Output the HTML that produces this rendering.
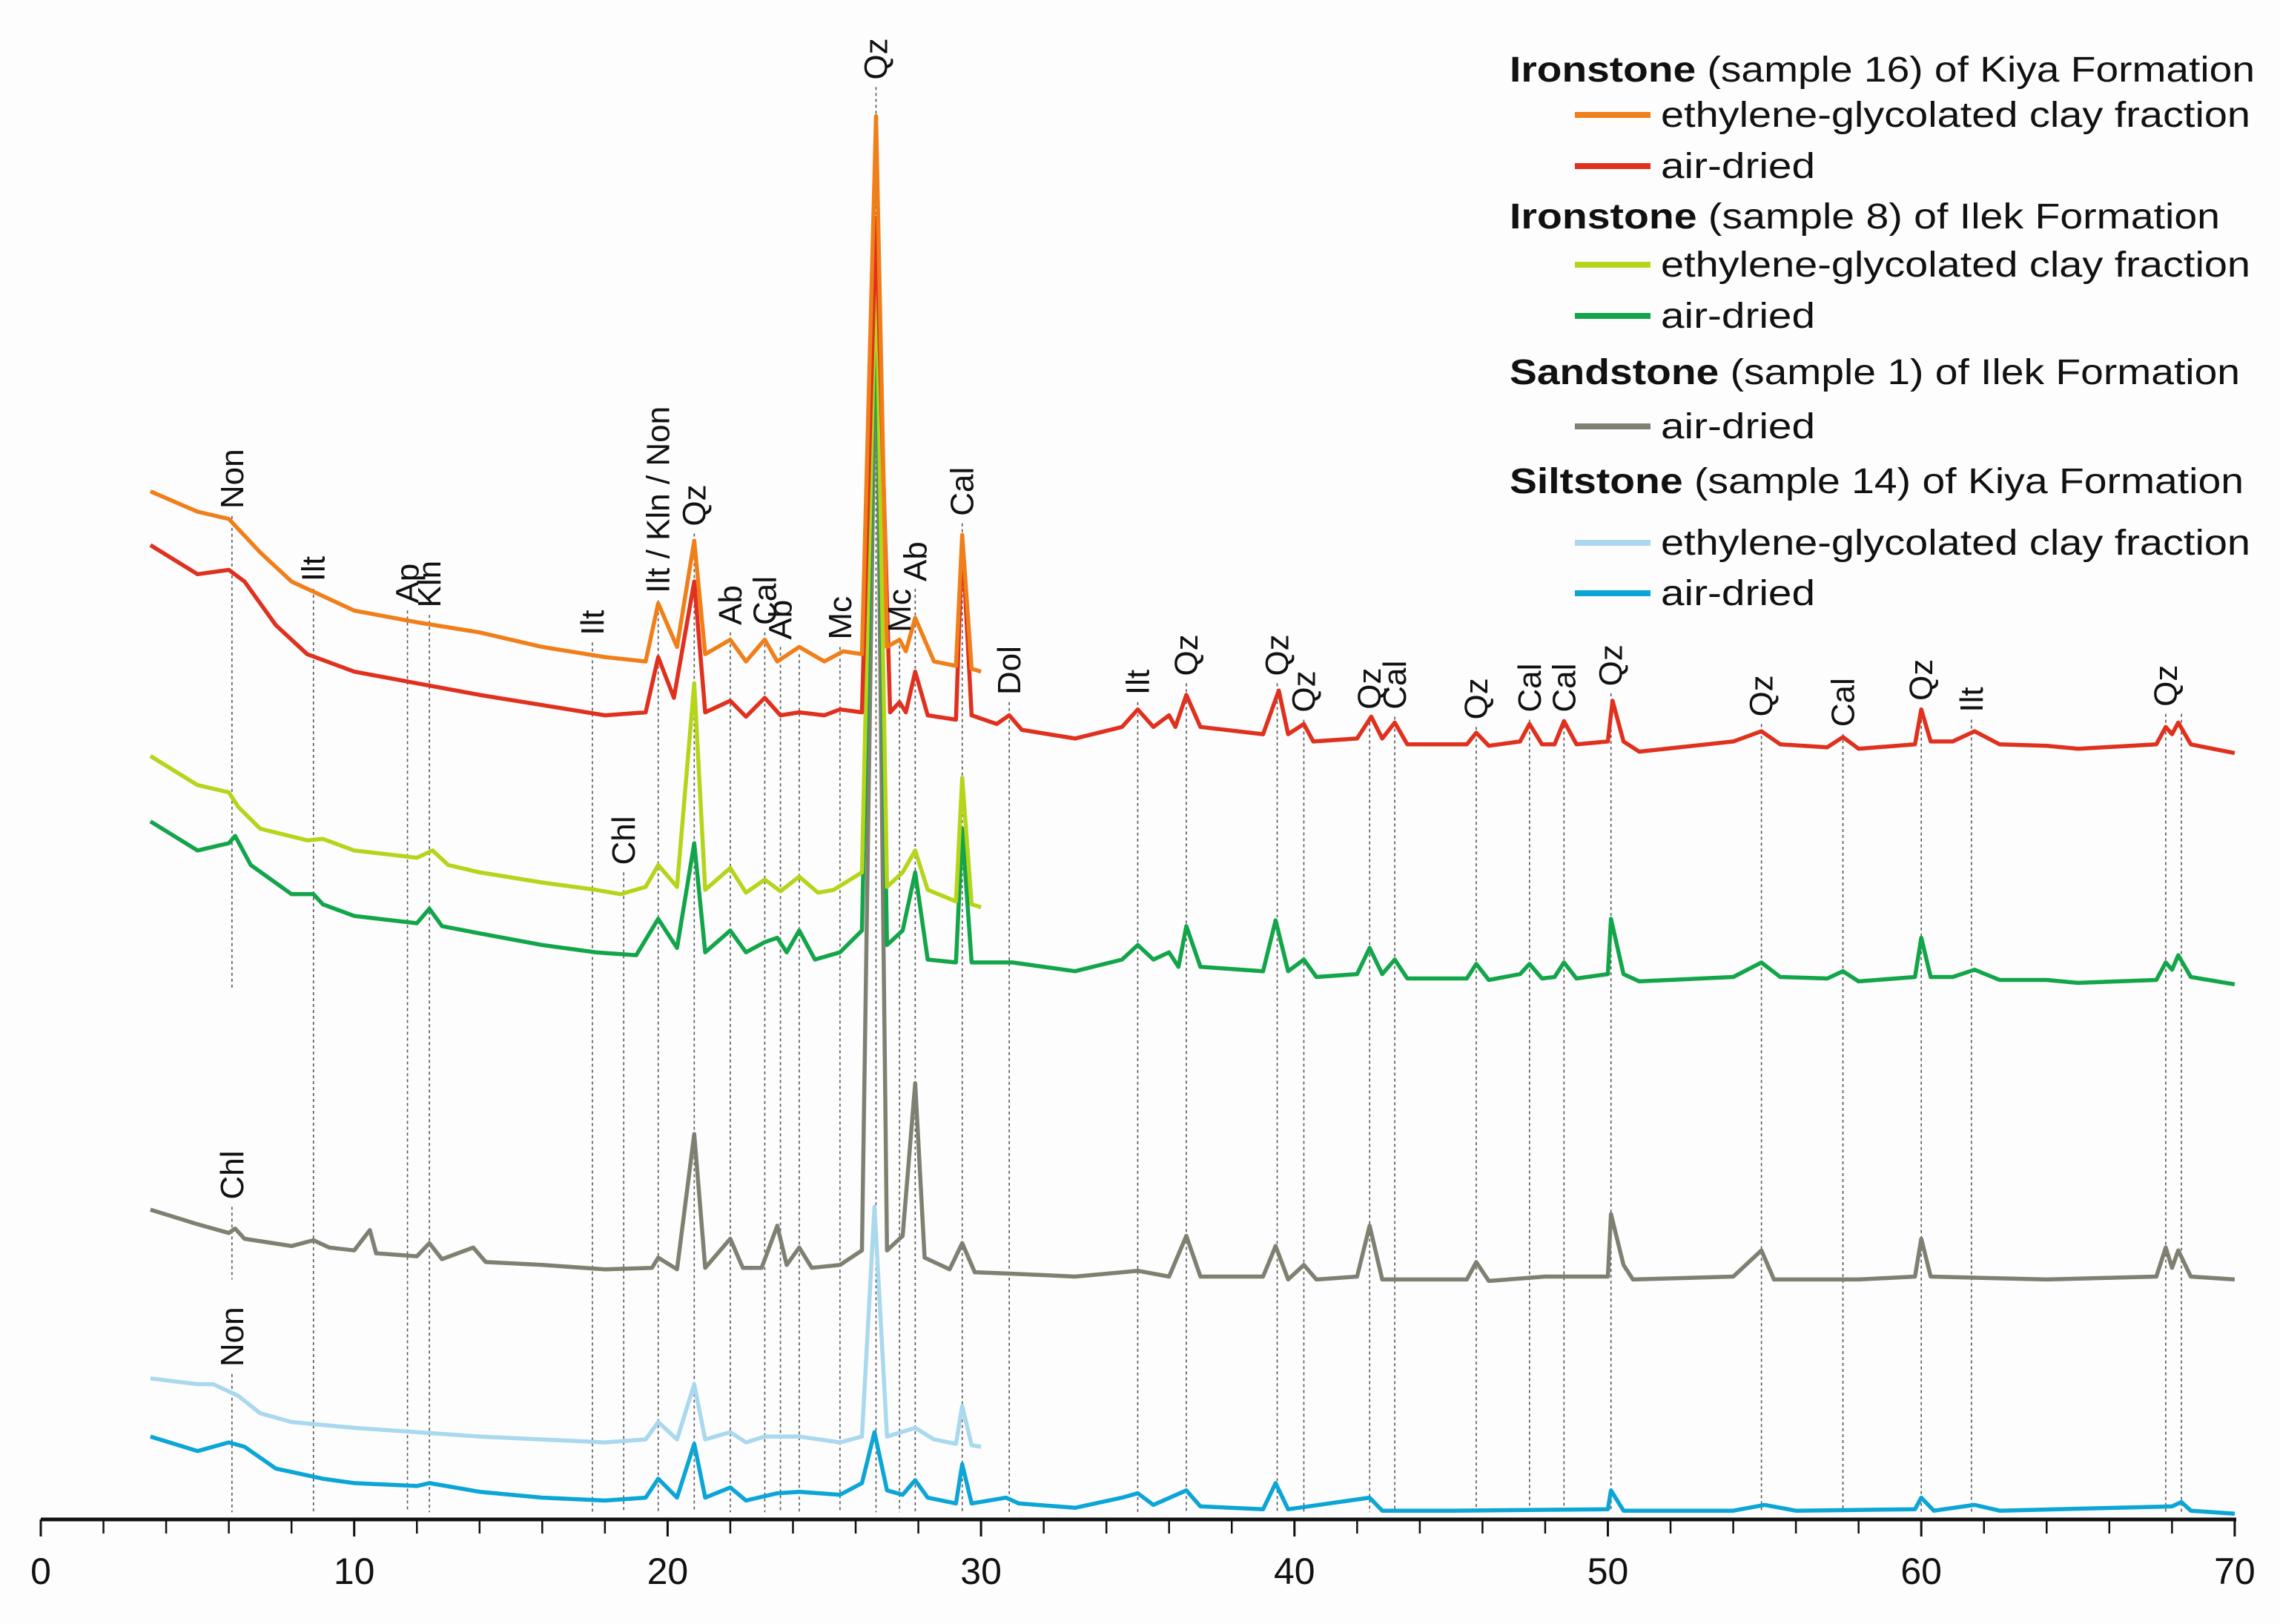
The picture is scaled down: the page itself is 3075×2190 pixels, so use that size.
<!DOCTYPE html>
<html><head><meta charset="utf-8"><style>
html,body{margin:0;padding:0;background:#fdfdfd;}
svg{display:block;font-family:"Liberation Sans",sans-serif;}
</style></head><body>
<svg id="chart" width="3075" height="2190" viewBox="0 0 3075 2190" xmlns="http://www.w3.org/2000/svg">
<rect width="3075" height="2190" fill="#fdfdfd"/>
<g id="guides"></g>
<g id="traces"></g>
<g id="labels"></g>
<g id="axis"></g>
<g id="legend"></g>
</svg>
<script>
// Values: level in reference units (smaller = higher on chart)
const orangePts=[[3.5,338],[5,352],[6,357],[7,380],[8,400],[9,410],[10,420],[12,428],[14,435],[16,445],[18,452],[19.3,455],[19.7,415],[20.3,445],[20.85,372],[21.2,450],[22,440],[22.5,455],[23.1,440],[23.5,455],[24.2,445],[25,455],[25.6,448],[26.2,450],[26.65,80],[27,445],[27.4,440],[27.6,448],[27.9,425],[28.5,455],[29.2,458],[29.4,368],[29.7,460],[30,462]];
const redPts=[[3.5,375],[5,395],[6,392],[6.5,400],[7.5,430],[8.5,450],[10,462],[12,470],[14,478],[16,485],[18,492],[19.3,490],[19.7,452],[20.2,480],[20.85,400],[21.2,490],[22,482],[22.5,493],[23.1,480],[23.6,492],[24.2,490],[25,492],[25.5,488],[26.2,490],[26.65,150],[27.1,490],[27.4,483],[27.6,490],[27.9,462],[28.3,492],[29.2,495],[29.4,370],[29.7,492],[30.5,498],[30.9,492],[31.3,502],[33,508],[34.5,500],[35,488],[35.5,500],[36,492],[36.2,500],[36.55,478],[37,500],[39,505],[39.5,475],[39.8,505],[40.3,498],[40.6,510],[42,508],[42.45,493],[42.8,508],[43.2,497],[43.6,512],[45.5,512],[45.8,504],[46.2,513],[47.2,510],[47.5,498],[47.9,512],[48.3,512],[48.6,496],[49,512],[50,510],[50.15,482],[50.5,510],[51,517],[54,510],[54.9,503],[55.5,512],[57,514],[57.5,507],[58,515],[59.8,512],[60,488],[60.3,510],[61,510],[61.7,503],[62.5,512],[64,513],[65,515],[67.5,512],[67.8,500],[68,505],[68.2,497],[68.6,512],[70,518]];
const limePts=[[3.5,520],[5,540],[6,545],[6.3,555],[7,570],[8.5,578],[9,577],[10,585],[12,590],[12.5,585],[13,595],[14,600],[16,607],[17.7,612],[18.5,615],[19.3,610],[19.7,595],[20.3,610],[20.85,470],[21.2,612],[22,597],[22.5,614],[23.1,605],[23.6,613],[24.2,603],[24.8,614],[25.3,612],[26.2,600],[26.65,170],[27,610],[27.5,600],[27.9,585],[28.3,612],[29.2,620],[29.4,535],[29.7,622],[30,624]];
const greenPts=[[3.5,565],[5,585],[6,580],[6.2,575],[6.7,595],[8,615],[8.7,615],[9,622],[10,630],[12,635],[12.4,625],[12.8,637],[14,642],[16,650],[17.7,655],[19,657],[19.7,632],[20.3,652],[20.85,580],[21.2,655],[22,640],[22.5,655],[23.1,648],[23.5,645],[23.8,655],[24.2,640],[24.7,660],[25.5,655],[26.2,640],[26.65,200],[27,650],[27.5,640],[27.9,600],[28.3,660],[29.2,662],[29.4,570],[29.7,662],[31,662],[33,668],[34.5,660],[35,650],[35.5,660],[36,655],[36.3,665],[36.55,637],[37,665],[39,668],[39.4,633],[39.8,668],[40.3,660],[40.7,672],[42,670],[42.4,652],[42.8,670],[43.2,660],[43.6,673],[45.5,673],[45.8,663],[46.2,674],[47.2,670],[47.5,663],[47.9,673],[48.3,672],[48.6,662],[49,673],[50,670],[50.1,632],[50.5,670],[51,675],[54,672],[54.9,662],[55.5,672],[57,673],[57.5,668],[58,675],[59.8,672],[60,645],[60.3,672],[61,672],[61.7,667],[62.5,674],[64,674],[65,676],[67.5,674],[67.8,662],[68,667],[68.2,657],[68.6,672],[70,677]];
const greyPts=[[3.5,832],[5,842],[6,848],[6.2,845],[6.5,852],[8,857],[8.7,853],[9.2,858],[10,860],[10.5,846],[10.7,862],[12,864],[12.4,855],[12.8,866],[13.8,858],[14.2,868],[16,870],[18,873],[19.5,872],[19.7,865],[20.3,873],[20.85,780],[21.2,872],[22,852],[22.4,872],[23,872],[23.5,843],[23.8,870],[24.2,858],[24.6,872],[25.5,870],[26.2,860],[26.65,200],[27,860],[27.5,850],[27.9,745],[28.2,865],[29,873],[29.4,855],[29.8,875],[31,876],[33,878],[35,874],[36,878],[36.55,850],[37,878],[39,878],[39.4,857],[39.8,880],[40.3,870],[40.7,880],[42,878],[42.4,843],[42.8,880],[45.5,880],[45.8,868],[46.2,881],[48,878],[50,878],[50.1,835],[50.5,870],[50.8,880],[54,878],[54.9,860],[55.3,880],[58,880],[59.8,878],[60,852],[60.3,878],[64,880],[67.5,878],[67.8,858],[68,872],[68.2,860],[68.6,878],[70,880]];
const skyPts=[[3.5,948],[5,952],[5.5,952],[6.3,960],[7,972],[8,978],[10,982],[12,985],[14,988],[16,990],[18,992],[19.3,990],[19.7,978],[20.3,990],[20.85,952],[21.2,990],[22,985],[22.5,992],[23.1,988],[24.2,988],[25.5,992],[26.2,988],[26.6,830],[27,988],[27.9,982],[28.5,990],[29.2,993],[29.4,967],[29.7,994],[30,995]];
const bluePts=[[3.5,988],[5,998],[6,992],[6.5,995],[7.5,1010],[9,1017],[10,1020],[12,1022],[12.4,1020],[14,1026],[16,1030],[18,1032],[19.3,1030],[19.7,1017],[20.3,1030],[20.85,993],[21.2,1030],[22,1023],[22.5,1032],[23.5,1027],[24.2,1026],[25.5,1028],[26.2,1020],[26.6,985],[27,1025],[27.5,1028],[27.9,1018],[28.3,1030],[29.2,1034],[29.4,1007],[29.7,1034],[30.8,1030],[31.2,1034],[33,1037],[34.5,1030],[35,1027],[35.5,1035],[36.55,1025],[37,1036],[39,1038],[39.4,1020],[39.8,1038],[42.4,1030],[42.8,1039],[45,1039],[50,1038],[50.1,1025],[50.5,1039],[54,1039],[55,1035],[56,1039],[59.8,1038],[60,1030],[60.4,1039],[61.7,1035],[62.5,1039],[68,1036],[68.3,1033],[68.6,1039],[70,1041]];
const peakLabels=[[6.1,350,"Non"],[8.7,400,"Ilt"],[11.7,415,"Ap"],[12.4,418,"Kln"],[17.6,437,"Ilt"],[19.7,408,"Ilt / Kln / Non"],[20.85,362,"Qz"],[22.0,430,"Ab"],[23.1,430,"Cal"],[23.6,440,"Ab"],[25.5,440,"Mc"],[26.65,55,"Qz"],[27.4,435,"Mc"],[27.9,400,"Ab"],[29.4,355,"Cal"],[30.9,478,"Dol"],[35.0,478,"Ilt"],[36.55,465,"Qz"],[39.45,465,"Qz"],[40.3,490,"Qz"],[42.4,488,"Qz"],[43.2,488,"Cal"],[45.8,495,"Qz"],[47.5,490,"Cal"],[48.6,490,"Cal"],[50.1,472,"Qz"],[54.9,493,"Qz"],[57.5,500,"Cal"],[60.0,482,"Qz"],[61.6,490,"Ilt"],[67.8,486,"Qz"],[18.6,595,"Chl"],[6.1,825,"Chl"],[6.1,940,"Non"]];
const guideLines=[[6.1,355,680],[6.1,830,880],[6.1,945,1040],[8.7,405,1040],[11.7,420,1040],[12.4,423,1040],[17.6,442,1040],[18.6,600,1040],[19.7,413,1040],[20.85,367,1040],[22,435,1040],[23.1,435,1040],[23.6,445,1040],[24.2,450,1040],[25.5,445,1040],[26.65,60,1040],[27.4,440,1040],[27.9,405,1040],[29.4,360,1040],[30.9,483,1040],[35,483,1040],[36.55,470,1040],[39.45,470,1040],[40.3,495,1040],[42.4,493,1040],[43.2,493,1040],[45.8,500,1040],[47.5,495,1040],[48.6,495,1040],[50.1,477,1040],[54.9,498,1040],[57.5,505,1040],[60,487,1040],[61.6,495,1040],[67.8,491,1040],[68.3,491,1040]];
const xTicks=[0,10,20,30,40,50,60,70];

const NS="http://www.w3.org/2000/svg";
function X(v){return 55+v*42.27;}
function Y(l){return 2049-(1045-l)*1.961;}
function mk(tag,attrs,parent){const e=document.createElementNS(NS,tag);for(const k in attrs)e.setAttribute(k,attrs[k]);parent.appendChild(e);return e;}

const gG=document.getElementById('guides');
guideLines.forEach(g=>{
  const l=mk('line',{x1:X(g[0]),x2:X(g[0]),y1:Y(g[1]),y2:Y(g[2]),stroke:'#555','stroke-width':1.6,'stroke-dasharray':'4,4'},gG);
  
  
});

const series=[
 ['orange-eg-ironstone-16',orangePts,'#f07f1a'],
 ['red-air-ironstone-16',redPts,'#e0301e'],
 ['grey-air-sandstone-1',greyPts,'#7f7f72'],
 ['lime-eg-ironstone-8',limePts,'#b5d51a'],
 ['green-air-ironstone-8',greenPts,'#12a54a'],
 ['sky-eg-siltstone-14',skyPts,'#a9d8ef'],
 ['blue-air-siltstone-14',bluePts,'#0ba5d6']
];
const order=[2,6,5,4,3,1,0];
const gT=document.getElementById('traces');
order.forEach(i=>{
  const s=series[i];
  const d=s[1].map((p,j)=>(j?'L':'M')+X(p[0]).toFixed(1)+' '+Y(p[1]).toFixed(1)).join(' ');
  const p=mk('path',{d:d,fill:'none',stroke:s[2],'stroke-width':5.5,'stroke-linejoin':'round'},gT);
  
  
});

const gL=document.getElementById('labels');
peakLabels.forEach(a=>{
  const x=X(a[0])+15,y=Y(a[1]);
  const t=mk('text',{x:x,y:y,transform:'rotate(-90 '+x+' '+y+')','font-size':44,fill:'#111'},gL);
  t.textContent=a[2];
  
  
});

const gA=document.getElementById('axis');
const al=mk('line',{x1:55,x2:3016,y1:2049,y2:2049,stroke:'#111','stroke-width':5},gA);


for(let v=0;v<=70;v+=2){
  const tk=mk('line',{x1:X(v),x2:X(v),y1:2049,y2:2068,stroke:'#111','stroke-width':2.5},gA);
  
  
}
xTicks.forEach(v=>{
  const tk=mk('line',{x1:X(v),x2:X(v),y1:2049,y2:2072,stroke:'#111','stroke-width':3},gA);
  
  
  const t=mk('text',{x:X(v),y:2136,'font-size':50,'text-anchor':'middle',fill:'#111'},gA);
  t.textContent=v;
  
  
});

const gLe=document.getElementById('legend');
const legendItems=[
 ['h','Ironstone',' (sample 16) of Kiya Formation',110,1005],
 ['e','#f07f1a','ethylene-glycolated clay fraction',171,795],
 ['e','#e0301e','air-dried',240,208],
 ['h','Ironstone',' (sample 8) of Ilek Formation',308,958],
 ['e','#b5d51a','ethylene-glycolated clay fraction',373,795],
 ['e','#12a54a','air-dried',442,208],
 ['h','Sandstone',' (sample 1) of Ilek Formation',518,985],
 ['e','#7f7f72','air-dried',591,208],
 ['h','Siltstone',' (sample 14) of Kiya Formation',665,990],
 ['e','#a9d8ef','ethylene-glycolated clay fraction',748,795],
 ['e','#0ba5d6','air-dried',816,208]
];
legendItems.forEach(it=>{
  if(it[0]==='h'){
    const t=mk('text',{x:2036,y:it[3],'font-size':48,fill:'#111',textLength:it[4],lengthAdjust:'spacingAndGlyphs'},gLe);
    const b=mk('tspan',{'font-weight':'bold'},t);b.textContent=it[1];
    const r=mk('tspan',{},t);r.textContent=it[2];
    
    
  }else{
    const sw=mk('line',{x1:2124,x2:2226,y1:it[3]-16,y2:it[3]-16,stroke:it[1],'stroke-width':8},gLe);
    
    
    const t=mk('text',{x:2240,y:it[3],'font-size':48,fill:'#111',textLength:it[4],lengthAdjust:'spacingAndGlyphs'},gLe);
    t.textContent=it[2];
    
    
  }
});
</script>
</body></html>
